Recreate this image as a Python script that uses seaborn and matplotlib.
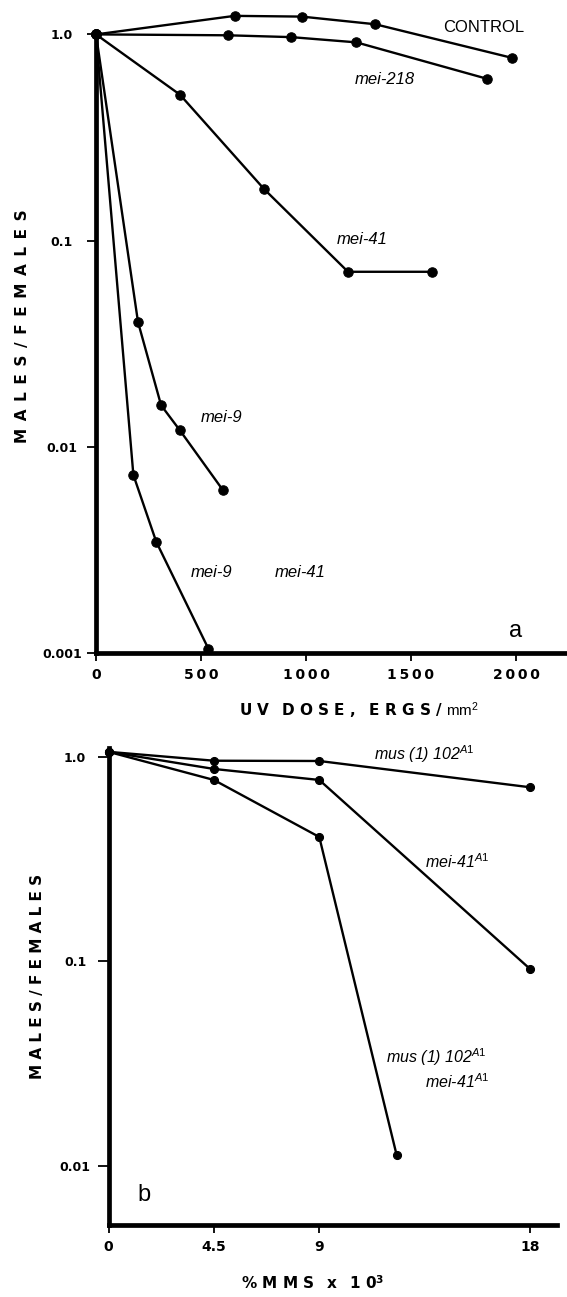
import numpy as np
import pandas as pd
import matplotlib
matplotlib.use("Agg")
import matplotlib.pyplot as plt
from matplotlib.ticker import NullLocator
import seaborn as sns

# ---------------- Panel a : UV dose (ergs/mm^2) ----------------
control_dose = [0, 660, 980, 1330, 1980]
control_ratio = [1.0, 1.23, 1.22, 1.12, 0.77]
mei218_dose = [0, 630, 930, 1240, 1860]
mei218_ratio = [1.0, 0.99, 0.97, 0.915, 0.61]
mei41_dose = [0, 400, 800, 1200, 1600]
mei41_ratio = [1.0, 0.51, 0.178, 0.0706, 0.0706]
mei9_dose = [0, 200, 310, 400, 605]
mei9_ratio = [1.0, 0.0403, 0.0159, 0.0120, 0.00615]
mei9_41_dose = [0, 178, 287, 535]
mei9_41_ratio = [1.0, 0.0073, 0.00346, 0.00105]

uv_ticks = [0, 500, 1000, 1500, 2000]
uv_ticklabels = ["0", "5\u20090\u20090", "1\u20090\u20090\u20090", "1\u20095\u20090\u20090", "2\u20090\u20090\u20090"]

# ---------------- Panel b : % MMS x 10^3 ----------------
mus102_conc = [0, 4.5, 9, 18]
mus102_ratio = [1.06, 0.959, 0.956, 0.711]
mei41A1_conc = [0, 4.5, 9, 18]
mei41A1_ratio = [1.06, 0.874, 0.772, 0.0917]
double_conc = [0, 4.5, 9, 12.3]
double_ratio = [1.06, 0.772, 0.406, 0.0113]

mms_ticks = [0, 4.5, 9, 18]
mms_ticklabels = ["0", "4.5", "9", "18"]

ratio_ticks_a = [0.001, 0.01, 0.1, 1.0]
ratio_labels_a = ["0.001", "0.01", "0.1", "1.0"]
ratio_ticks_b = [0.01, 0.1, 1.0]
ratio_labels_b = ["0.01", "0.1", "1.0"]

df_a = pd.concat([
    pd.DataFrame({"dose": control_dose, "ratio": control_ratio, "strain": "control"}),
    pd.DataFrame({"dose": mei218_dose, "ratio": mei218_ratio, "strain": "mei-218"}),
    pd.DataFrame({"dose": mei41_dose, "ratio": mei41_ratio, "strain": "mei-41"}),
    pd.DataFrame({"dose": mei9_dose, "ratio": mei9_ratio, "strain": "mei-9"}),
    pd.DataFrame({"dose": mei9_41_dose, "ratio": mei9_41_ratio, "strain": "mei-9 mei-41"}),
], ignore_index=True)

df_b = pd.concat([
    pd.DataFrame({"conc": mus102_conc, "ratio": mus102_ratio, "strain": "mus102"}),
    pd.DataFrame({"conc": mei41A1_conc, "ratio": mei41A1_ratio, "strain": "mei41A1"}),
    pd.DataFrame({"conc": double_conc, "ratio": double_ratio, "strain": "double"}),
], ignore_index=True)

sns.set_style("white")
plt.rcParams["font.family"] = ["DejaVu Sans"]
plt.rcParams["text.color"] = "black"
plt.rcParams["axes.labelcolor"] = "black"
plt.rcParams["xtick.color"] = "black"
plt.rcParams["ytick.color"] = "black"
plt.rcParams["mathtext.fontset"] = "custom"
plt.rcParams["mathtext.it"] = "Liberation Sans:italic"
plt.rcParams["mathtext.rm"] = "Liberation Sans"
plt.rcParams["mathtext.bf"] = "DejaVu Sans:bold"

W, H = 567, 1297
fig = plt.figure(figsize=(W / 100, H / 100), dpi=100)
fig.patch.set_facecolor("white")


def frac_box(left, top, right, bottom):
    return [left / W, 1 - bottom / H, (right - left) / W, (bottom - top) / H]


def ftxt(x, y, s, **kw):
    kw.setdefault("ha", "center")
    kw.setdefault("va", "center")
    kw.setdefault("color", "black")
    fig.text(x / W, 1 - y / H, s, **kw)


# ---------- panel a ----------
axa = fig.add_axes(frac_box(96, 5, 567, 653))
axa.set_yscale("log")
sns.lineplot(data=df_a, x="dose", y="ratio", units="strain", estimator=None,
             sort=False, color="black", marker="o", markersize=6.8,
             markeredgecolor="black", linewidth=1.7, ax=axa, clip_on=False,
             legend=False)
axa.set_xlim(0, 471 / 0.21)
axa.set_ylim(0.001, 10 ** ((653 - 5) / 206.2 - 3))
axa.set_xticks(uv_ticks)
axa.set_xticklabels(uv_ticklabels, fontsize=10, fontweight="bold")
axa.set_yticks(ratio_ticks_a)
axa.set_yticklabels(ratio_labels_a, fontsize=9, fontweight="bold")
axa.yaxis.set_minor_locator(NullLocator())
axa.set_xlabel("")
axa.set_ylabel("")

# ---------- panel b ----------
axb = fig.add_axes(frac_box(108.5, 748, 557, 1225))
axb.set_yscale("log")
sns.lineplot(data=df_b, x="conc", y="ratio", units="strain", estimator=None,
             sort=False, color="black", marker="o", markersize=5.8,
             markeredgecolor="black", linewidth=1.7, ax=axb, clip_on=False,
             legend=False)
axb.set_xlim(0, (557 - 108.5) / 23.42)
axb.set_ylim(10 ** (-(1225 - 757) / 204.3), 10 ** ((757 - 748) / 204.3))
axb.set_xticks(mms_ticks)
axb.set_xticklabels(mms_ticklabels, fontsize=10, fontweight="bold")
axb.set_yticks(ratio_ticks_b)
axb.set_yticklabels(ratio_labels_b, fontsize=9, fontweight="bold")
axb.yaxis.set_minor_locator(NullLocator())
axb.set_xlabel("")
axb.set_ylabel("")

for ax, ylen, ypad in ((axa, 6.5, 18), (axb, 8, 16)):
    ax.set_facecolor("white")
    ax.grid(False)
    ax.spines["top"].set_visible(False)
    ax.spines["right"].set_visible(False)
    for s in ("left", "bottom"):
        ax.spines[s].set_linewidth(3.4)
        ax.spines[s].set_color("black")
    ax.tick_params(axis="x", which="major", direction="out", length=6,
                   width=1.3, color="black", labelcolor="black", pad=5, bottom=True)
    ax.tick_params(axis="y", which="major", direction="out", length=ylen,
                   width=1.3, color="black", labelcolor="black", pad=ypad, left=True)
    for lab in ax.get_yticklabels():
        lab.set_horizontalalignment("center")

axa.spines["left"].set_bounds(0.001, 1.0)

lbl = dict(family="Liberation Sans", fontsize=12)
it = dict(family="Liberation Sans", fontsize=12, style="italic")
bold_sp = dict(fontsize=11, fontweight="bold")

# panel a annotations
ftxt(484, 28, "CONTROL", **lbl)
ftxt(385, 80, "mei-218", **it)
ftxt(362, 239, "mei-41", **it)
ftxt(222, 417, "mei-9", **it)
ftxt(212, 572, "mei-9", **it)
ftxt(300, 572, "mei-41", **it)
ftxt(516, 631, "a", family="Liberation Sans", fontsize=17)
ftxt(359, 711, "U V \u2002D O S E ,\u2002 E R G S / $\\mathrm{mm}^{2}$", **bold_sp)
ftxt(23, 326, "M\u2002A\u2002L\u2002E\u2002S\u2002/\u2002F\u2002E\u2002M\u2002A\u2002L\u2002E\u2002S",
     rotation=90, **bold_sp)

# panel b annotations
ftxt(424, 754, "mus (1) 102$^{\\mathit{A1}}$", family="Liberation Sans", fontsize=11.5, style="italic")
ftxt(457, 862, "mei-41$^{\\mathit{A1}}$", family="Liberation Sans", fontsize=11.5, style="italic")
ftxt(436, 1057, "mus (1) 102$^{\\mathit{A1}}$", family="Liberation Sans", fontsize=11.5, style="italic")
ftxt(457, 1082, "mei-41$^{\\mathit{A1}}$", family="Liberation Sans", fontsize=11.5, style="italic")
ftxt(144, 1195, "b", family="Liberation Sans", fontsize=17)
ftxt(313, 1283, "% M M S \u2002x\u2002 1 0$^{\\mathbf{3}}$", **bold_sp)
ftxt(38, 976, "M A L E S / F E M A L E S", rotation=90, **bold_sp)

fig.savefig("out.png", dpi=100, facecolor="white")
